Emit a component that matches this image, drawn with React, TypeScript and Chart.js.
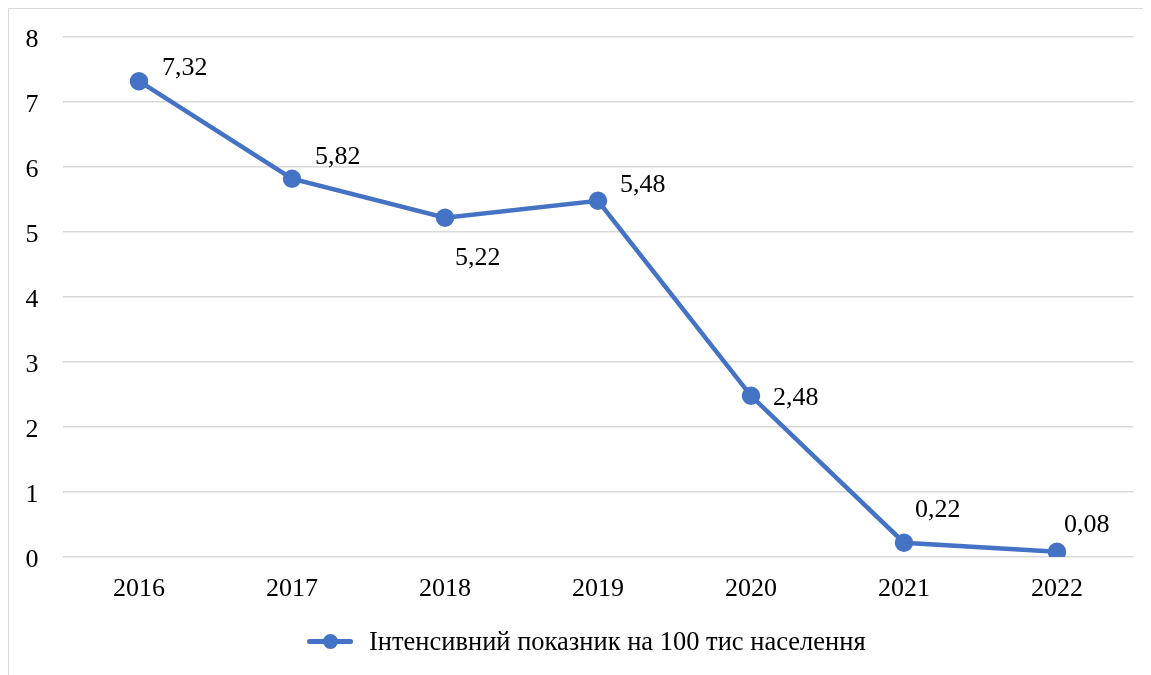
import React, { useEffect, useRef } from "react";
import { Chart, registerables } from "chart.js";

Chart.register(...registerables);

const categories = ["2016", "2017", "2018", "2019", "2020", "2021", "2022"];
const values = [7.32, 5.82, 5.22, 5.48, 2.48, 0.22, 0.08];
const valueLabels = ["7,32", "5,82", "5,22", "5,48", "2,48", "0,22", "0,08"];
const yTicks = [0, 1, 2, 3, 4, 5, 6, 7, 8];
const seriesName = "Інтенсивний показник на 100 тис населення";

// label offsets (style): text left edge / vertical centre relative to point
const labelOffsets = [
  [23, -13],
  [23, -22],
  [10, 40],
  [22, -16],
  [22, 2],
  [11, -33],
  [7, -27],
];

const FONT = "'Liberation Serif', 'Times New Roman', serif";
const BLUE = "#4472C4";

const labelPlugin = {
  id: "valueLabels",
  afterDatasetsDraw(chart: any) {
    const ctx = chart.ctx;
    const meta = chart.getDatasetMeta(0);
    ctx.save();
    ctx.font = `26px ${FONT}`;
    ctx.fillStyle = "#000";
    ctx.textAlign = "left";
    ctx.textBaseline = "middle";
    meta.data.forEach((pt: any, i: number) => {
      const [dx, dy] = labelOffsets[i];
      ctx.fillText(valueLabels[i], pt.x + dx, pt.y + dy);
    });
    ctx.restore();
  },
};

export default function App() {
  const ref = useRef<HTMLCanvasElement>(null);
  useEffect(() => {
    if (!ref.current) return;
    const chart = new Chart(ref.current, {
      type: "line",
      data: {
        labels: categories,
        datasets: [
          {
            label: seriesName,
            data: values,
            borderColor: BLUE,
            backgroundColor: BLUE,
            borderWidth: 4.5,
            pointRadius: 7,
            pointHoverRadius: 7,
            pointBackgroundColor: BLUE,
            pointBorderColor: BLUE,
            tension: 0,
          },
        ],
      },
      options: {
        animation: false,
        responsive: false,
        maintainAspectRatio: false,
        layout: { padding: { left: 0, top: 28, right: 33.5, bottom: 70 } },
        plugins: { legend: { display: false }, tooltip: { enabled: false } },
        scales: {
          x: {
            offset: true,
            grid: { display: false, drawTicks: false },
            border: { display: false },
            ticks: { color: "#000", font: { family: FONT, size: 26 }, padding: 17, maxRotation: 0 },
            afterFit: (s: any) => {
              s.height = 60;
              s.paddingLeft = 0;
              s.paddingRight = 0;
            },
          },
          y: {
            min: 0,
            max: 8,
            afterBuildTicks: (s: any) => { s.ticks = yTicks.map((v) => ({ value: v })); },
            grid: { color: "#d9d9d9", lineWidth: 1.5, drawTicks: false },
            border: { display: false },
            ticks: { color: "#000", font: { family: FONT, size: 26 }, padding: 24, labelOffset: 3 },
            afterFit: (s: any) => {
              s.width = 53.5;
              s.paddingTop = 0;
              s.paddingBottom = 0;
            },
          },
        },
      },
      plugins: [labelPlugin],
    });
    return () => chart.destroy();
  }, []);

  return (
    <div
      style={{
        position: "relative",
        width: 1160,
        height: 680,
        border: "1px solid #d9d9d9",
        boxSizing: "border-box",
        background: "#fff",
      }}
    >
      <canvas ref={ref} width={1158} height={678} style={{ position: "absolute", left: 0, top: 0 }} />
      <div
        style={{
          position: "absolute",
          top: 641 - 9 - 16,
          left: 307 - 9,
          display: "flex",
          alignItems: "center",
          fontFamily: FONT,
          fontSize: 26.5,
          color: "#000",
          whiteSpace: "nowrap",
          height: 32,
        }}
      >
        <span style={{ position: "relative", width: 46, height: 32, marginRight: 16, display: "inline-block" }}>
          <span
            style={{
              position: "absolute",
              left: 0,
              top: 14,
              width: 46,
              height: 5,
              borderRadius: 3,
              background: BLUE,
            }}
          />
          <span
            style={{
              position: "absolute",
              left: 16,
              top: 9,
              width: 15,
              height: 15,
              borderRadius: "50%",
              background: BLUE,
            }}
          />
        </span>
        <span>{seriesName}</span>
      </div>
    </div>
  );
}
